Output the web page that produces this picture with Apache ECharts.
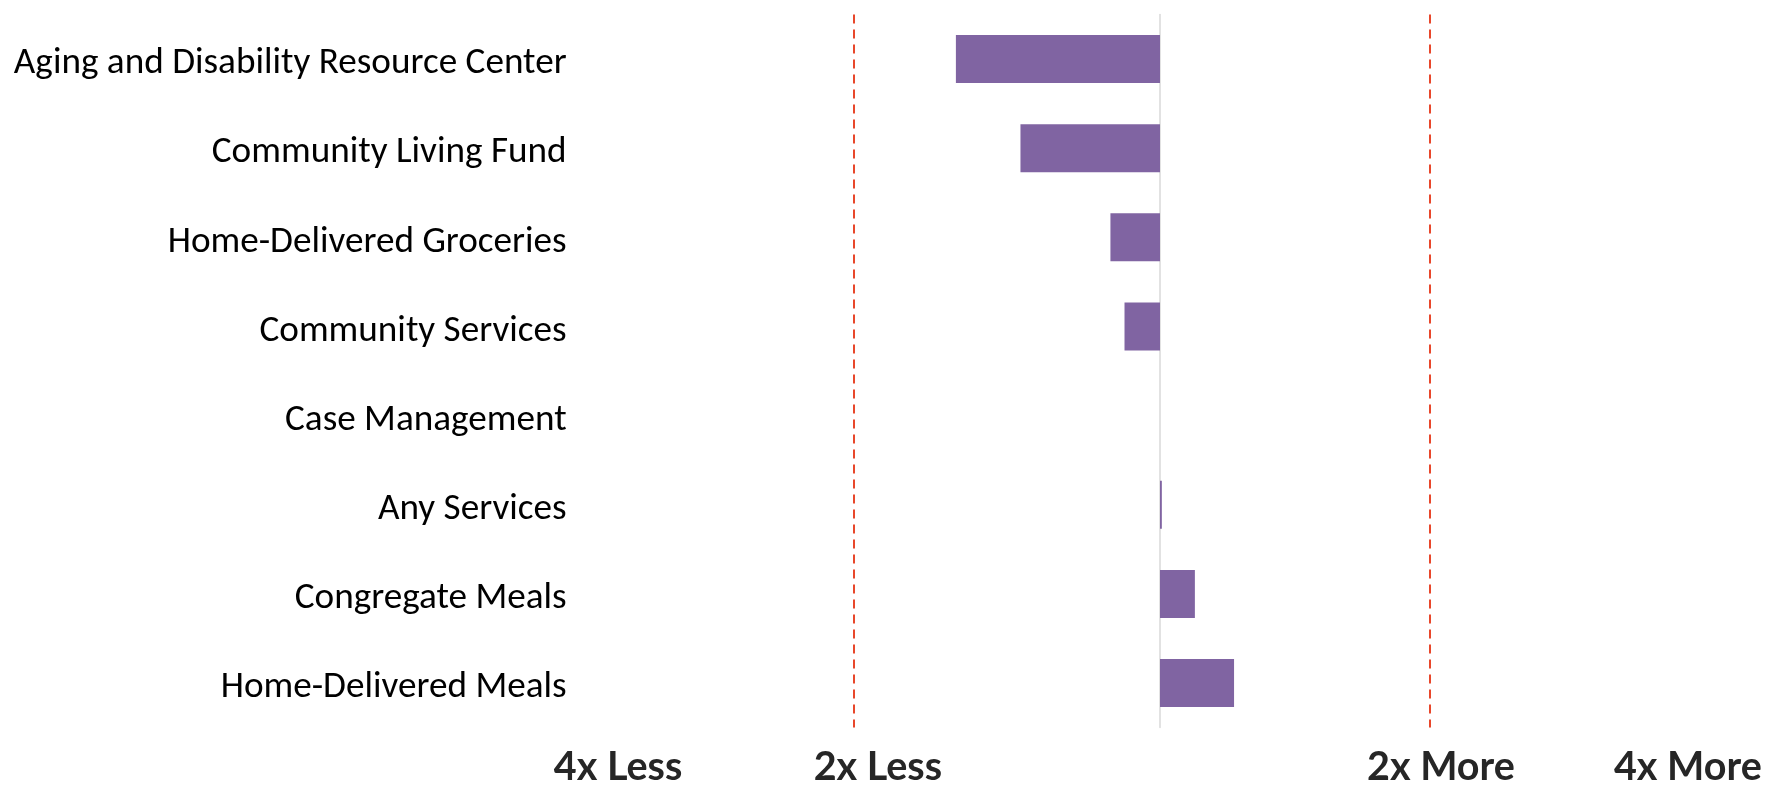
<!DOCTYPE html>
<html lang="en">
<head>
    <meta charset="UTF-8">
    <title>Service use ratio</title>
    <script src="https://cdn.jsdelivr.net/npm/echarts@6/dist/echarts.min.js"></script>
    <style>
        html, body { margin: 0; padding: 0; background: #fff; }
        #chart { width: 1783px; height: 785px; }
    </style>
</head>
<body>
<div id="chart"></div>
<script type="text/javascript">
    // categories, top to bottom
    var categories = ['Aging and Disability Resource Center', 'Community Living Fund', 'Home-Delivered Groceries',
        'Community Services', 'Case Management', 'Any Services', 'Congregate Meals', 'Home-Delivered Meals'];
    // bar values (scale: 2x Less line = -1)
    var ratioValues = [-0.667, -0.456, -0.162, -0.116, 0, 0.006, 0.114, 0.242];
    // dashed reference lines: 2x Less, 2x More
    var refLines = [-1, 0.879];
    // bottom axis labels
    var tickValues = [-1.771, -0.922, 0.918, 1.725];
    var tickLabels = ['4x Less', '2x Less', '2x More', '4x More'];

    var myChart = echarts.init(document.getElementById('chart'));

    myChart.setOption({
        animation: false,
        grid: {
            left: 578.6,
            right: 11,
            top: 14.4,
            bottom: 57.4,
            outerBoundsMode: 'none'
        },
        xAxis: {
            type: 'value',
            min: -1.9,
            max: 2.0,
            splitLine: { show: false },
            axisLine: { show: false },
            axisTick: { show: false },
            axisLabel: {
                customValues: tickValues,
                margin: 20,
                fontFamily: 'Lato',
                fontWeight: 'bold',
                fontSize: 39.5,
                color: '#262626',
                formatter: function (v) {
                    for (var i = 0; i < tickValues.length; i++) {
                        if (Math.abs(tickValues[i] - v) < 1e-6) return tickLabels[i];
                    }
                    return '';
                }
            }
        },
        yAxis: {
            type: 'category',
            inverse: true,
            data: categories,
            axisTick: { show: false },
            axisLine: {
                show: true,
                onZero: true,
                lineStyle: { color: '#d9d9d9', width: 1.5 }
            },
            axisLabel: {
                margin: 12,
                fontFamily: 'Carlito, "Liberation Sans Narrow", "Open Sans"',
                fontSize: 37.2,
                color: '#000',
                verticalAlign: 'top',
                lineHeight: 10
            }
        },
        series: [{
            type: 'bar',
            data: ratioValues,
            barWidth: 48,
            itemStyle: { color: '#8064A2' },
            markLine: {
                silent: true,
                symbol: 'none',
                label: { show: false },
                lineStyle: { color: '#E8472B', type: [9, 6], width: 2 },
                data: refLines.map(function (v) { return { xAxis: v }; })
            }
        }]
    });
</script>
</body>
</html>
